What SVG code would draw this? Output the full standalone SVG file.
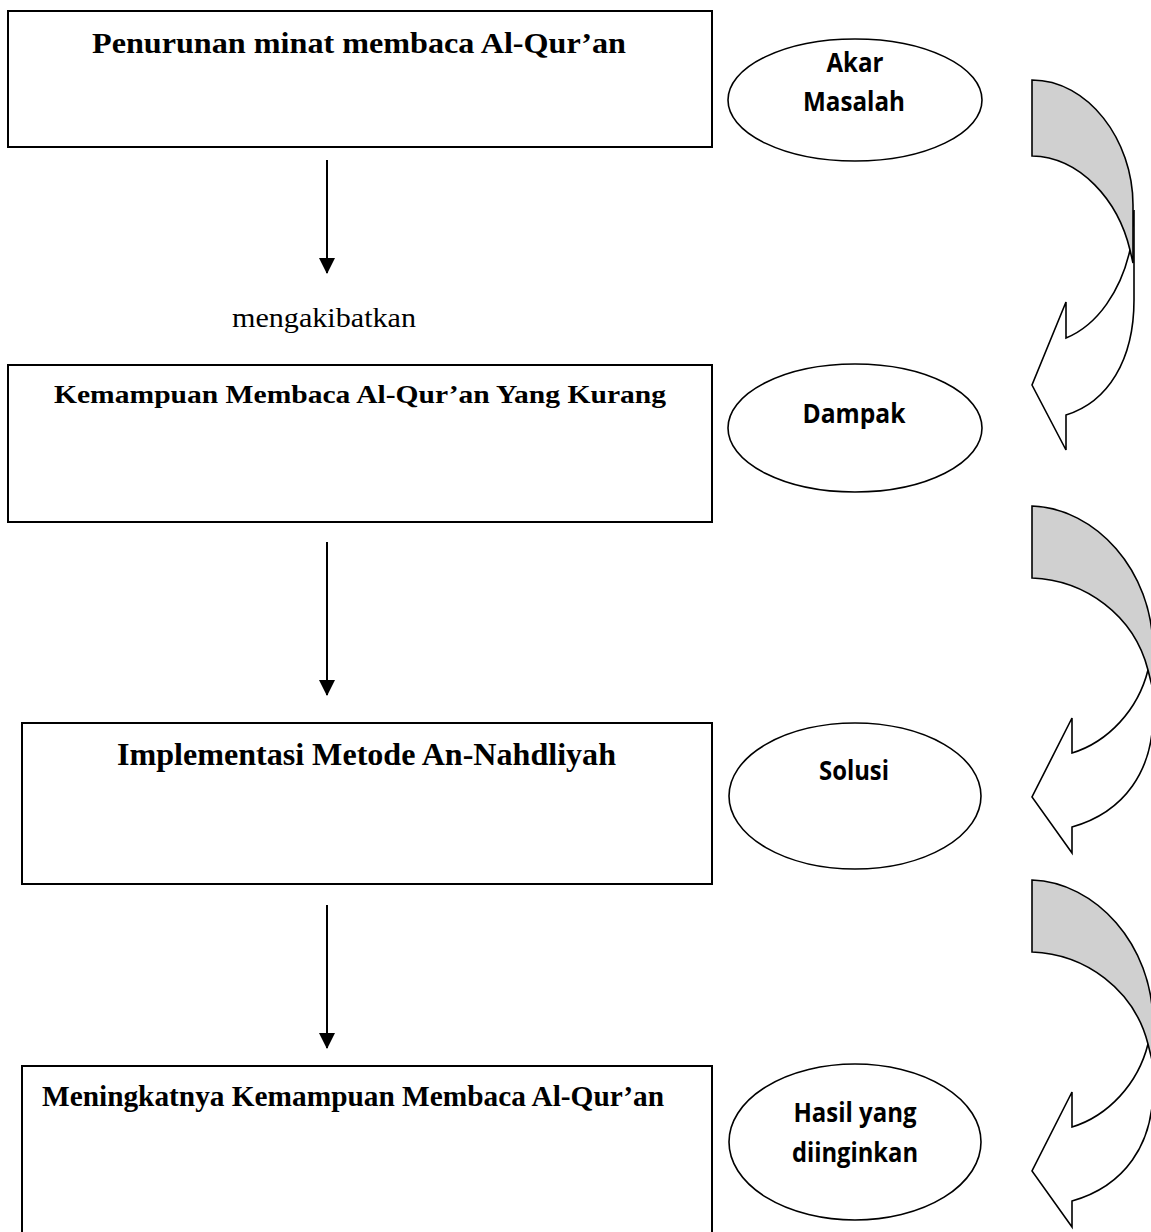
<svg xmlns="http://www.w3.org/2000/svg" width="1151" height="1232" viewBox="0 0 1151 1232">
<style>
.box{fill:#fff;stroke:#000;stroke-width:2}
.ell{fill:#fff;stroke:#000;stroke-width:1.6}
.t{font-family:"Liberation Serif","Times New Roman",serif;font-weight:bold;fill:#000}
.r{font-family:"Liberation Serif","Times New Roman",serif;fill:#000}
.e{font-family:"Open Sans","Liberation Sans",sans-serif;font-weight:bold;fill:#000;text-anchor:middle}
.conn{stroke:#000;stroke-width:2;fill:none}
.gray{fill:#d0d0d0;stroke:#000;stroke-width:1.6;stroke-linejoin:miter}
.white{fill:#fff;stroke:#000;stroke-width:1.6;stroke-linejoin:miter}
</style>
<defs>
<marker id="ah" markerUnits="userSpaceOnUse" markerWidth="16" markerHeight="16" viewBox="0 0 16 16" refX="15" refY="8" orient="auto">
<path d="M0,0 L16,8 L0,16 Z" fill="#000"/>
</marker>
</defs>
<rect width="1151" height="1232" fill="#fff"/>

<g id="box1">
<rect class="box" x="8" y="11" width="704" height="136"/>
<text class="t" x="92" y="53" font-size="30" textLength="534" lengthAdjust="spacingAndGlyphs">Penurunan minat membaca Al-Qur’an</text>
</g>
<g id="box2">
<rect class="box" x="8" y="365" width="704" height="157"/>
<text class="t" x="54" y="403" font-size="26" textLength="612" lengthAdjust="spacingAndGlyphs">Kemampuan Membaca Al-Qur’an Yang Kurang</text>
</g>
<g id="box3">
<rect class="box" x="22" y="723" width="690" height="161"/>
<text class="t" x="117" y="765" font-size="31" textLength="499" lengthAdjust="spacingAndGlyphs">Implementasi Metode An-Nahdliyah</text>
</g>
<g id="box4">
<rect class="box" x="22" y="1066" width="690" height="184"/>
<text class="t" x="42" y="1106" font-size="30" textLength="622" lengthAdjust="spacingAndGlyphs">Meningkatnya Kemampuan Membaca Al-Qur’an</text>
</g>

<g id="label-mengakibatkan">
<text class="r" x="232" y="327" font-size="27" textLength="184" lengthAdjust="spacingAndGlyphs">mengakibatkan</text>
</g>

<g id="ellipse1">
<ellipse class="ell" cx="855" cy="100" rx="127" ry="61"/>
<text class="e" x="855" y="72" font-size="26" textLength="57" lengthAdjust="spacingAndGlyphs">Akar</text>
<text class="e" x="854" y="111" font-size="26" textLength="102" lengthAdjust="spacingAndGlyphs">Masalah</text>
</g>
<g id="ellipse2">
<ellipse class="ell" cx="855" cy="428" rx="127" ry="64"/>
<text class="e" x="854" y="423" font-size="26" textLength="103" lengthAdjust="spacingAndGlyphs">Dampak</text>
</g>
<g id="ellipse3">
<ellipse class="ell" cx="855" cy="796" rx="126" ry="73"/>
<text class="e" x="854" y="780" font-size="26" textLength="70" lengthAdjust="spacingAndGlyphs">Solusi</text>
</g>
<g id="ellipse4">
<ellipse class="ell" cx="855" cy="1142" rx="126" ry="78"/>
<text class="e" x="855" y="1122" font-size="26" textLength="123" lengthAdjust="spacingAndGlyphs">Hasil yang</text>
<text class="e" x="855" y="1162" font-size="26" textLength="126" lengthAdjust="spacingAndGlyphs">diinginkan</text>
</g>

<g id="connectors">
<line class="conn" x1="327" y1="160" x2="327" y2="273" marker-end="url(#ah)"/>
<line class="conn" x1="327" y1="542" x2="327" y2="695" marker-end="url(#ah)"/>
<line class="conn" x1="327" y1="905" x2="327" y2="1048" marker-end="url(#ah)"/>
</g>

<g id="curved-arrow1">
<path class="white" d="M1130,250 C1121,290 1098,325 1066,338 L1066,302 L1032,385 L1066,450 L1066,415 C1108,402 1134,360 1134,300 L1134,210 Z"/>
<path class="gray" d="M1032,80 C1088,80 1133,140 1133,205 L1133,263 L1130,250 C1118,200 1080,157 1032,156 Z"/>
</g>
<g id="curved-arrow2">
<path class="white" d="M1148,670 C1138,710 1108,742 1072,753 L1072,718 L1032,797 L1072,853 L1072,827 C1125,812 1153,770 1153,715 L1153,640 Z"/>
<path class="gray" d="M1032,506 C1095,508 1153,570 1153,650 L1153,690 L1148,670 C1134,615 1085,580 1032,578 Z"/>
</g>
<g id="curved-arrow3" transform="translate(0,374)">
<path class="white" d="M1148,670 C1138,710 1108,742 1072,753 L1072,718 L1032,797 L1072,853 L1072,827 C1125,812 1153,770 1153,715 L1153,640 Z"/>
<path class="gray" d="M1032,506 C1095,508 1153,570 1153,650 L1153,690 L1148,670 C1134,615 1085,580 1032,578 Z"/>
</g>
</svg>
